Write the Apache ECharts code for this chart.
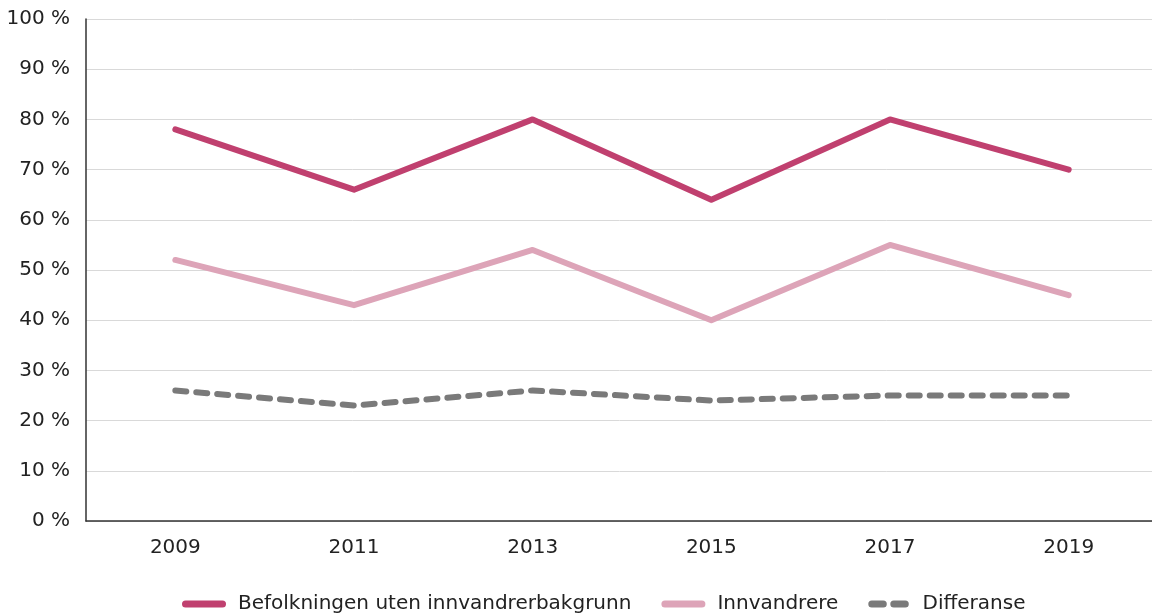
<!DOCTYPE html>
<html lang="no">
<head>
    <meta charset="utf-8">
    <title>Andel</title>
    <script src="https://cdn.jsdelivr.net/npm/echarts@6/dist/echarts.min.js"></script>
    <style>
        html, body { margin: 0; padding: 0; background: #fff; }
    </style>
</head>
<body>
    <div id="chart" style="width: 1152px; height: 616px;"></div>
    <script type="text/javascript">
        // data
        var years = ['2009', '2011', '2013', '2015', '2017', '2019'];
        var befolkningen = [78, 66, 80, 64, 80, 70];
        var innvandrere = [52, 43, 54, 40, 55, 45];
        var differanse = [26, 23, 26, 24, 25, 25];

        var font = 'DejaVu Sans, Verdana, sans-serif';

        // legend icons: a rounded bar, and two short rounded dashes
        var pillIcon = 'path://M3.5,0 H40.5 A3.5,3.5 0 0 1 40.5,7 H3.5 A3.5,3.5 0 0 1 3.5,0 Z';
        var dashIcon = 'path://M3.5,0 H15 A3.5,3.5 0 0 1 15,7 H3.5 A3.5,3.5 0 0 1 3.5,0 Z ' +
                       'M25.5,0 H37 A3.5,3.5 0 0 1 37,7 H25.5 A3.5,3.5 0 0 1 25.5,0 Z';

        var chart = echarts.init(document.getElementById('chart'));
        var option = {
            animation: false,
            textStyle: { fontFamily: font },
            grid: {
                left: 86,
                width: 1072,
                top: 19,
                bottom: 95,
                containLabel: false,
                outerBoundsMode: 'none'
            },
            legend: {
                left: 177,
                top: 589,
                itemWidth: 44,
                itemHeight: 7,
                itemGap: 30,
                textStyle: { fontSize: 20, color: '#222', fontFamily: font, padding: [0, 0, 0, 7] },
                data: [
                    { name: 'Befolkningen uten innvandrerbakgrunn', icon: pillIcon },
                    { name: 'Innvandrere', icon: pillIcon },
                    { name: 'Differanse', icon: dashIcon }
                ]
            },
            xAxis: {
                type: 'category',
                data: years,
                boundaryGap: true,
                axisLine: { lineStyle: { color: '#333', width: 1.5 } },
                axisTick: { show: false },
                axisLabel: { fontSize: 20, color: '#222', margin: 17 }
            },
            yAxis: {
                type: 'value',
                min: 0,
                max: 100,
                interval: 10,
                axisLine: { show: true, lineStyle: { color: '#333', width: 1.5 } },
                axisTick: { show: false },
                axisLabel: {
                    fontSize: 20,
                    color: '#222',
                    margin: 16,
                    formatter: '{value} %'
                },
                splitLine: { lineStyle: { color: '#d9d9d9', width: 1 } }
            },
            series: [{
                name: 'Befolkningen uten innvandrerbakgrunn',
                type: 'line',
                symbol: 'none',
                data: befolkningen,
                itemStyle: { color: '#c0406f' },
                lineStyle: { color: '#c0406f', width: 6, cap: 'round', join: 'round' }
            }, {
                name: 'Innvandrere',
                type: 'line',
                symbol: 'none',
                data: innvandrere,
                itemStyle: { color: '#dda4b8' },
                lineStyle: { color: '#dda4b8', width: 6, cap: 'round', join: 'round' }
            }, {
                name: 'Differanse',
                type: 'line',
                symbol: 'none',
                data: differanse,
                itemStyle: { color: '#7a7a7a' },
                lineStyle: { color: '#7a7a7a', width: 6, type: [11, 10], cap: 'round', join: 'round' }
            }]
        };
        chart.setOption(option);
    </script>
</body>
</html>
